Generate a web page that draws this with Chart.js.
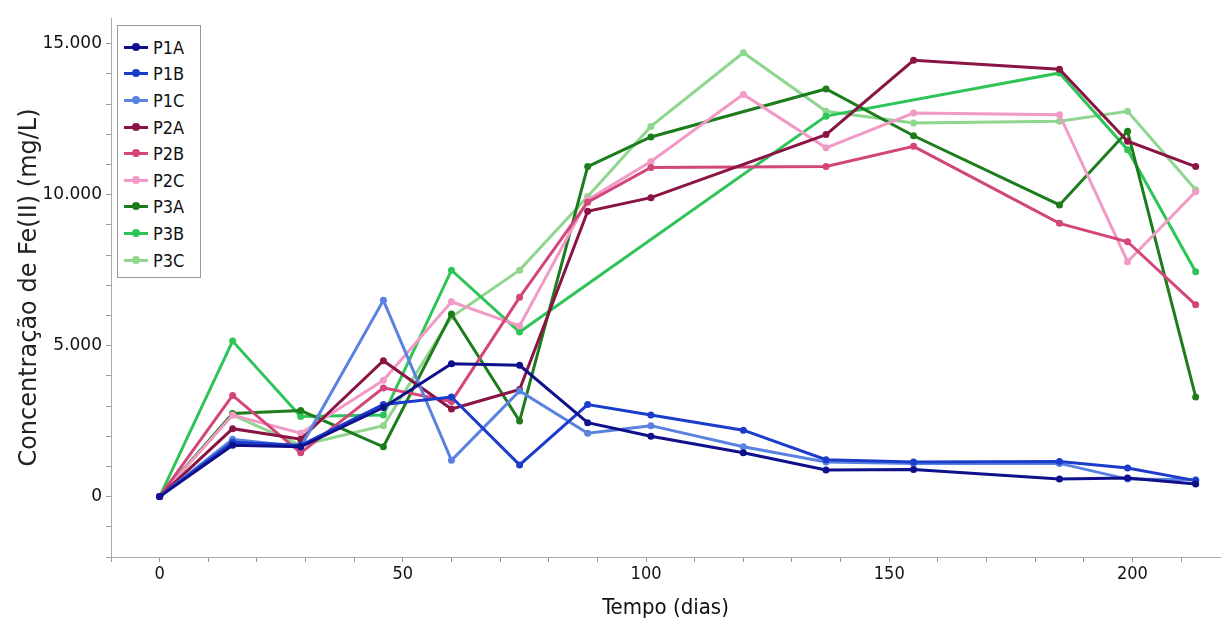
<!DOCTYPE html>
<html>
<head>
<meta charset="utf-8">
<script src="https://cdn.jsdelivr.net/npm/chart.js@4.4.1/dist/chart.umd.min.js"></script>
<style>
  body { margin: 0; background: #fff; }
  #wrap { position: relative; width: 1224px; height: 623px; }
  #legend {
    position: absolute; left: 117px; top: 25px; width: 82px;
    border: 1px solid #999; background: #fff; padding: 8px 0 4px 0;
    font-family: "DejaVu Sans Condensed", "DejaVu Sans", sans-serif; font-size: 18px; color: #111;
  }
  .item { height: 26.6px; display: flex; align-items: center; padding-left: 6px; }
  .mark { position: relative; width: 24px; height: 3px; margin-right: 5px; }
  .mark span { position: absolute; left: 8px; top: -3px; width: 8px; height: 8px; border-radius: 50%; }
</style>
</head>
<body>
<div id="wrap">
  <canvas id="chart" width="1224" height="623"></canvas>
  <div id="legend"></div>
</div>
<script>
// sampling days
let days = [0, 15, 29, 46, 60, 74, 88, 101, 120, 137, 155, 185, 199, 213];

let p1a = [0, 1700, 1650, 2950, 4400, 4350, 2450, 2000, 1450, 880, 900, 580, 620, 420];
let p1b = [0, 1800, 1700, 3050, 3300, 1050, 3050, 2700, 2200, 1220, 1150, 1160, 950, 530];
let p1c = [0, 1900, 1650, 6500, 1200, 3500, 2100, 2350, 1650, 1150, 1100, 1100, 580, 560];
let p2a = [0, 2250, 1900, 4500, 2900, 3550, 9450, 9900, null, 11990, 14450, 14150, 11770, 10930];
let p2b = [0, 3350, 1450, 3600, 3150, 6600, 9750, 10900, null, 10930, 11600, 9050, 8440, 6350];
let p2c = [0, 2700, 2100, 3850, 6450, 5650, 9830, 11100, 13320, 11550, 12700, 12650, 7780, 10100];
let p3a = [0, 2750, 2850, 1650, 6050, 2500, 10930, 11910, null, 13500, 11950, 9660, 12100, 3300];
let p3b = [0, 5150, 2650, 2700, 7500, 5450, null, null, null, 12600, null, 14030, 11490, 7450];
let p3c = [0, 2700, 1700, 2350, 5950, 7500, 9940, 12260, 14700, 12760, 12370, 12430, 12760, 10160];

let names = ["P1A", "P1B", "P1C", "P2A", "P2B", "P2C", "P3A", "P3B", "P3C"];
let colors = ["#10108c", "#1c3ccc", "#5a82e0", "#8a1545", "#d2467a", "#f29ac6", "#1d7d1d", "#2ec457", "#8fd68f"];
let series = [p1a, p1b, p1c, p2a, p2b, p2c, p3a, p3b, p3c];

let xTicks = [];
for (let v = -10; v <= 210; v += 10) xTicks.push(v);
let yTicks = [];
for (let v = -2000; v <= 15000; v += 1000) yTicks.push(v);

const ctx = document.getElementById('chart').getContext('2d');

const chart = new Chart(ctx, {
    type: 'line',
    data: {
        labels: days,
        datasets: series.map((s, i) => ({
            label: names[i],
            data: s.map((v, j) => ({ x: days[j], y: v })),
            borderColor: colors[i],
            backgroundColor: colors[i],
            borderWidth: 3,
            pointRadius: 3.5,
            pointBorderWidth: 0,
            tension: 0,
            spanGaps: true
        }))
    },
    options: {
        responsive: false,
        animation: false,
        layout: { padding: { top: 18, right: 0, left: 0, bottom: 0 } },
        plugins: {
            legend: { display: false },
            tooltip: { enabled: false }
        },
        scales: {
            x: {
                type: 'linear',
                min: -10,
                max: 218,
                afterBuildTicks: s => { s.ticks = xTicks.map(v => ({ value: v })); },
                afterFit: s => { s.height = 66; },
                grid: { drawOnChartArea: false, color: "#999", tickLength: 5 },
                border: { color: "#aaa" },
                ticks: {
                    autoSkip: false,
                    maxRotation: 0,
                    padding: 2,
                    color: "#111",
                    font: { family: "'DejaVu Sans Condensed', 'DejaVu Sans', sans-serif", size: 18 },
                    callback: v => (v % 50 === 0 ? String(v) : '')
                },
                title: {
                    display: true,
                    text: 'Tempo (dias)',
                    color: "#111",
                    padding: { top: 0, bottom: 2 },
                    font: { family: "'DejaVu Sans Condensed', 'DejaVu Sans', sans-serif", size: 22 }
                }
            },
            y: {
                min: -2000,
                max: 15850,
                afterBuildTicks: s => { s.ticks = yTicks.map(v => ({ value: v })); },
                afterFit: s => { s.width = 111; },
                grid: { drawOnChartArea: false, color: "#999", tickLength: 5 },
                border: { color: "#aaa" },
                ticks: {
                    autoSkip: false,
                    padding: 4,
                    color: "#111",
                    font: { family: "'DejaVu Sans', sans-serif", size: 17 },
                    callback: v => (v % 5000 === 0 ? v.toLocaleString('de-DE') : '')
                },
                title: {
                    display: true,
                    text: 'Concentração de Fe(II) (mg/L)',
                    color: "#222",
                    padding: { top: 15, bottom: 0 },
                    font: { family: "'DejaVu Sans', sans-serif", size: 24 }
                }
            }
        }
    }
});

let legend = document.getElementById("legend");
names.forEach((n, i) => {
    let item = document.createElement("div");
    item.className = "item";
    item.innerHTML = '<div class="mark" style="background:' + colors[i] + '"><span style="background:' + colors[i] + '"></span></div>' + n;
    legend.appendChild(item);
});
</script>
</body>
</html>
